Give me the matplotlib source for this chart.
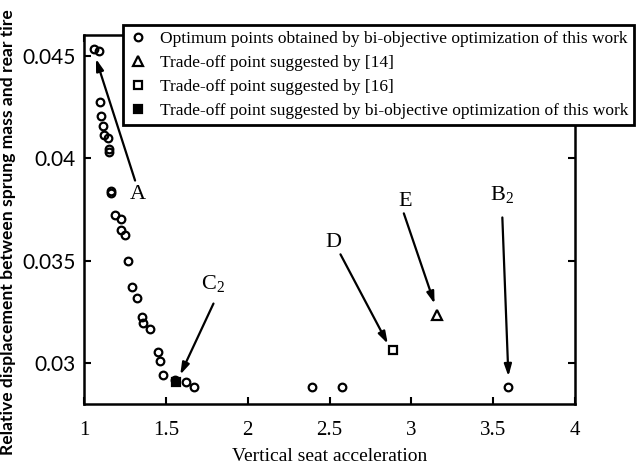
import numpy as np
import matplotlib.pyplot as plt
from matplotlib.lines import Line2D

# Pareto front of the bi-objective optimization
pareto_acc = [1.063, 1.094, 1.096, 1.104, 1.118, 1.124, 1.145, 1.151, 1.152,
              1.165, 1.166, 1.190, 1.224, 1.224, 1.251, 1.267, 1.292, 1.322,
              1.353, 1.363, 1.404, 1.449, 1.465, 1.481, 1.557, 1.624, 1.675,
              2.390, 2.577, 3.593]
pareto_disp = [0.04533, 0.04521, 0.04271, 0.04207, 0.04157, 0.04114, 0.04098,
               0.04045, 0.04030, 0.03838, 0.03828, 0.03722, 0.03703, 0.03649,
               0.03625, 0.03500, 0.03370, 0.03317, 0.03224, 0.03195, 0.03167,
               0.03056, 0.03008, 0.02943, 0.02919, 0.02906, 0.02883, 0.02883,
               0.02883, 0.02883]

# trade-off points
ref14 = (3.158, 0.03235)
ref16 = (2.887, 0.03065)
this_work = (1.565, 0.02905)

# annotation letters: (label, label position, arrow tail, arrow tip)
labels = ['A', 'C$_2$', 'D', 'E', 'B$_2$']
label_xy = [(1.33, 0.0382), (1.79, 0.0339), (2.525, 0.0359), (2.964, 0.0379), (3.556, 0.0382)]
tail_xy = [(1.312, 0.0389), (1.791, 0.0329), (2.567, 0.0353), (2.954, 0.0373), (3.556, 0.0371)]
tip_xy = [(1.073, 0.04484), (1.588, 0.02943), (2.856, 0.03094), (3.142, 0.03289), (3.593, 0.02935)]

legend_text = ['Optimum points obtained by bi-objective optimization of this work',
               'Trade-off point suggested by [14]',
               'Trade-off point suggested by [16]',
               'Trade-off point suggested by bi-objective optimization of this work']

serif = ['Liberation Serif', 'DejaVu Serif']
sans = ['Liberation Sans Narrow', 'Lato', 'DejaVu Sans']

# subscripts in the same serif face as the letters
plt.rcParams['mathtext.fontset'] = 'custom'
plt.rcParams['mathtext.rm'] = 'Liberation Serif'
plt.rcParams['mathtext.it'] = 'Liberation Serif'

fig = plt.figure(figsize=(6.36, 4.65), dpi=100)
ax = fig.add_axes([0.1321, 0.1312, 0.9041 - 0.1321, 0.9247 - 0.1312])

ms = 5.5
ax.plot(pareto_acc, pareto_disp, 'o', mfc='none', mec='k', ms=ms, mew=1.6)
ax.plot(*ref14, '^', mfc='none', mec='k', ms=ms + 1, mew=1.6)
ax.plot(*ref16, 's', mfc='none', mec='k', ms=ms, mew=1.6)
ax.plot(*this_work, 's', mfc='k', mec='k', ms=ms, mew=1.6)

for lab, lxy, txy, pxy in zip(labels, label_xy, tail_xy, tip_xy):
    ax.annotate('', xy=pxy, xytext=txy,
                arrowprops=dict(arrowstyle='-|>,head_length=0.7,head_width=0.22',
                                color='k', lw=1.6, shrinkA=0, shrinkB=0))
    ax.text(*lxy, lab, ha='center', va='center', fontsize=16, family=serif)

ax.set_xlim(1, 4)
ax.set_ylim(0.028, 0.046)
ax.set_xticks([1, 1.5, 2, 2.5, 3, 3.5, 4])
ax.set_xticklabels(['1', '1.5', '2', '2.5', '3', '3.5', '4'], family=serif, fontsize=15)
ax.set_yticks([0.03, 0.035, 0.04, 0.045])
ax.set_yticklabels(['0.03', '0.035', '0.04', '0.045'], family=sans, fontsize=15)
ax.tick_params(direction='in', length=5, width=1.5, top=True, right=True)
ax.tick_params(axis='x', pad=12)
ax.tick_params(axis='y', pad=6)
for sp in ax.spines.values():
    sp.set_linewidth(1.8)

ax.set_xlabel('Vertical seat acceleration', family=serif, fontsize=14, labelpad=6)
ax.set_ylabel('Relative displacement between sprung mass and rear tire',
              family=sans, fontsize=12.6, fontweight='bold')
ax.yaxis.set_label_coords(-0.1385, 0.465)

handles = [
    Line2D([], [], ls='none', marker='o', mfc='none', mec='k', ms=ms, mew=1.6),
    Line2D([], [], ls='none', marker='^', mfc='none', mec='k', ms=ms + 1, mew=1.6),
    Line2D([], [], ls='none', marker='s', mfc='none', mec='k', ms=ms, mew=1.6),
    Line2D([], [], ls='none', marker='s', mfc='k', mec='k', ms=ms, mew=1.6),
]
leg = fig.legend(handles, legend_text, loc='upper left',
                 bbox_to_anchor=(123 / 636, 1 - 25 / 465, (634 - 123) / 636, 0),
                 mode='expand', borderaxespad=0, fancybox=False, framealpha=1,
                 edgecolor='k', handlelength=1.0, handletextpad=0.8,
                 labelspacing=0.44, borderpad=0.35,
                 prop={'family': serif, 'size': 12.5})
leg.get_frame().set_linewidth(2)

fig.savefig('out.png', dpi=100)
